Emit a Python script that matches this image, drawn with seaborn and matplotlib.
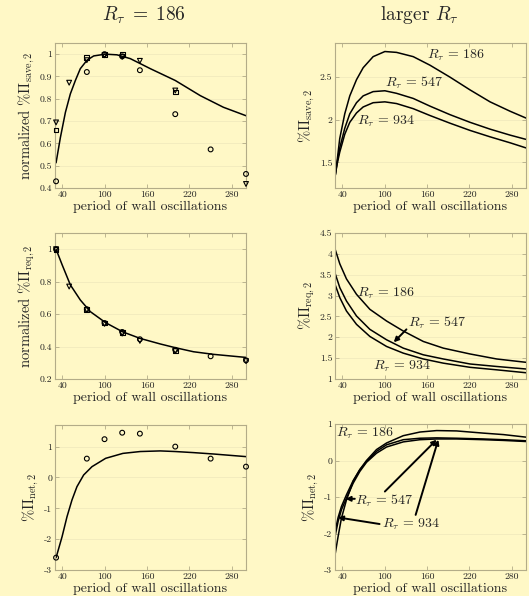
import matplotlib
matplotlib.use('Agg')
import matplotlib.pyplot as plt
import seaborn as sns
from matplotlib.ticker import FormatStrFormatter

# ---- data ----
# period of wall oscillations of the measured cases
per_o = [31.5, 75, 100, 125, 150, 200, 250, 300]
per_v = [31.5, 50, 75, 100, 125, 150, 200, 300]
per_s = [31.5, 75, 100, 125, 200]

# normalized %Pi_save,2 at R_tau = 186
save_o = [0.43, 0.92, 1.0, 0.99, 0.928, 0.731, 0.573, 0.463]
save_v = [0.694, 0.872, 0.973, 0.995, 0.988, 0.97, 0.837, 0.418]
save_s = [0.66, 0.985, 1.0, 1.0, 0.83]
save_fit_x = [31.5, 37.6, 44.7, 51.7, 58.8, 65.8, 75.3, 84.7, 101, 117.6,
              136.4, 164.7, 200, 235.4, 268, 300]
save_fit_y = [0.513, 0.626, 0.739, 0.822, 0.882, 0.935, 0.973, 0.992, 1.0,
              0.997, 0.98, 0.935, 0.882, 0.814, 0.762, 0.724]

# normalized %Pi_req,2 at R_tau = 186
req_o = [1.0, 0.63, 0.545, 0.49, 0.445, 0.38, 0.34, 0.315]
req_v = [1.0, 0.77, 0.625, 0.54, 0.48, 0.435, 0.372, 0.31]
req_s = [1.0, 0.63, 0.545, 0.485, 0.375]
req_fit_x = [31.5, 40, 51.7, 65.8, 80, 101.6, 126, 150.5, 178.8, 200,
             225.8, 254, 300]
req_fit_y = [1.0, 0.905, 0.78, 0.687, 0.615, 0.547, 0.49, 0.45, 0.416,
             0.393, 0.368, 0.352, 0.333]

# %Pi_net,2 at R_tau = 186
net_o = [-2.6, 0.61, 1.24, 1.45, 1.42, 1.0, 0.61, 0.35]
net_fit_x = [31.5, 40, 47, 54, 61, 70.5, 82.3, 101.6, 126, 150.5, 178.8,
             200, 225.8, 254, 300]
net_fit_y = [-2.6, -1.92, -1.27, -0.73, -0.30, 0.08, 0.35, 0.62, 0.78,
             0.84, 0.86, 0.84, 0.805, 0.76, 0.675]

# larger R_tau: model curves
sv_x = [30, 33, 36.7, 43.8, 50.9, 60.4, 69.8, 83.9, 100.5, 117, 140.6,
        164.2, 192.5, 220.9, 249.2, 277.5, 300]
sv_186 = [1.33, 1.52, 1.78, 2.07, 2.28, 2.47, 2.61, 2.74, 2.80, 2.79, 2.74,
          2.64, 2.50, 2.35, 2.21, 2.10, 2.02]
sv_547 = [1.33, 1.50, 1.67, 1.90, 2.07, 2.20, 2.28, 2.33, 2.34, 2.31, 2.25,
          2.16, 2.06, 1.97, 1.89, 1.82, 1.77]
sv_934 = [1.33, 1.48, 1.62, 1.83, 1.97, 2.08, 2.15, 2.20, 2.21, 2.19, 2.13,
          2.05, 1.96, 1.875, 1.80, 1.73, 1.67]

rq_x = [30, 36.8, 46.2, 60.4, 79.3, 102.9, 126.5, 154.8, 183.1, 220.9,
        258.6, 300]
rq_186 = [4.12, 3.76, 3.40, 3.03, 2.67, 2.39, 2.15, 1.90, 1.74, 1.60, 1.48, 1.40]
rq_547 = [3.54, 3.19, 2.87, 2.51, 2.19, 1.94, 1.74, 1.58, 1.48, 1.36, 1.30, 1.24]
rq_934 = [3.27, 2.95, 2.63, 2.31, 2.02, 1.78, 1.62, 1.48, 1.38, 1.28, 1.22, 1.15]

nt_x = [30, 34.4, 39.1, 46.2, 55.7, 65.1, 74.5, 88.7, 102.9, 126.5, 150.1,
        173.7, 202, 239.8, 268.1, 300]
nt_186 = [-2.59, -2.08, -1.58, -1.08, -0.57, -0.25, 0.0, 0.30, 0.48, 0.68,
          0.78, 0.82, 0.81, 0.75, 0.71, 0.64]
nt_547 = [-2.08, -1.67, -1.35, -1.03, -0.62, -0.30, -0.05, 0.20, 0.37, 0.51,
          0.57, 0.59, 0.59, 0.57, 0.55, 0.52]
nt_934 = [-1.95, -1.56, -1.26, -0.94, -0.55, -0.25, -0.03, 0.25, 0.43, 0.57,
          0.61, 0.62, 0.61, 0.59, 0.57, 0.54]

BG = '#FFF8C6'
SPINE = '#B3AC88'
GRID = '#F3ECBE'

sns.set_theme(style='ticks', rc={'axes.facecolor': BG, 'figure.facecolor': BG})
plt.rcParams['font.family'] = 'serif'
plt.rcParams['font.serif'] = ['cmr10', 'DejaVu Serif']
plt.rcParams['mathtext.fontset'] = 'cm'
plt.rcParams['axes.unicode_minus'] = False

fig = plt.figure(figsize=(5.29, 5.96), dpi=100)
W, H = 529, 596


def make_ax(x0, y0, x1, y1):
    return fig.add_axes([x0 / W, 1 - y1 / H, (x1 - x0) / W, (y1 - y0) / H])


def style(ax, ylim, yticks, ylabel):
    ax.set_xlim(30, 300)
    ax.set_ylim(*ylim)
    ax.set_xticks([40, 100, 160, 220, 280])
    ax.set_yticks(yticks)
    ax.yaxis.set_major_formatter(FormatStrFormatter('%g'))
    ax.tick_params(direction='in', top=True, right=True, length=3,
                   width=0.6, color=SPINE, labelsize=7, labelcolor='#222222',
                   pad=2)
    for s in ax.spines.values():
        s.set_color(SPINE)
        s.set_linewidth(0.8)
    ax.yaxis.grid(True, color=GRID, lw=0.7)
    ax.set_axisbelow(True)
    ax.set_xlabel('period of wall oscillations', fontsize=10, labelpad=1)
    ax.set_ylabel(ylabel, fontsize=10.5, labelpad=2)


def curve(ax, x, y):
    sns.lineplot(x=x, y=y, ax=ax, color='black', lw=1.1)


def pts(ax, x, y, m):
    sns.scatterplot(x=x, y=y, ax=ax, marker=m, s=12, color='none',
                    edgecolor='black', linewidth=0.8, clip_on=False, zorder=3)


arrow = dict(arrowstyle='-|>', color='black', lw=1.4,
             mutation_scale=7, shrinkA=0, shrinkB=0)
lab = dict(fontsize=10, va='center', ha='left')

# ---- row 1 ----
ax = make_ax(55, 43, 246, 188)
curve(ax, save_fit_x, save_fit_y)
pts(ax, per_o, save_o, 'o')
pts(ax, per_v, save_v, 'v')
pts(ax, per_s, save_s, 's')
style(ax, (0.4, 1.05), [0.4, 0.5, 0.6, 0.7, 0.8, 0.9, 1.0],
      r'normalized $\%\Pi_{\mathrm{save},2}$')

ax = make_ax(335, 43, 526, 188)
curve(ax, sv_x, sv_186)
curve(ax, sv_x, sv_547)
curve(ax, sv_x, sv_934)
style(ax, (1.2, 2.9), [1.5, 2, 2.5], r'$\%\Pi_{\mathrm{save},2}$')
ax.text(160, 2.75, r'$R_\tau\,=\,186$', **lab)
ax.text(100, 2.43, r'$R_\tau\,=\,547$', **lab)
ax.text(61, 1.98, r'$R_\tau\,=\,934$', **lab)

# ---- row 2 ----
ax = make_ax(55, 233, 246, 379)
curve(ax, req_fit_x, req_fit_y)
pts(ax, per_o, req_o, 'o')
pts(ax, per_v, req_v, 'v')
pts(ax, per_s, req_s, 's')
style(ax, (0.2, 1.1), [0.2, 0.4, 0.6, 0.8, 1.0],
      r'normalized $\%\Pi_{\mathrm{req},2}$')

ax = make_ax(335, 233, 526, 379)
curve(ax, rq_x, rq_186)
curve(ax, rq_x, rq_547)
curve(ax, rq_x, rq_934)
style(ax, (1, 4.5), [1, 1.5, 2, 2.5, 3, 3.5, 4, 4.5], r'$\%\Pi_{\mathrm{req},2}$')
ax.text(61, 3.05, r'$R_\tau\,=\,186$', **lab)
ax.text(133, 2.35, r'$R_\tau\,=\,547$', **lab)
ax.text(84, 1.30, r'$R_\tau\,=\,934$', **lab)
ax.annotate('', xy=(113, 1.88), xytext=(131, 2.19), arrowprops=arrow)

# ---- row 3 ----
ax = make_ax(55, 425, 246, 570)
curve(ax, net_fit_x, net_fit_y)
pts(ax, per_o, net_o, 'o')
style(ax, (-3, 1.7), [-3, -2, -1, 0, 1], r'$\%\Pi_{\mathrm{net},2}$')

ax = make_ax(335, 424, 526, 570)
curve(ax, nt_x, nt_186)
curve(ax, nt_x, nt_547)
curve(ax, nt_x, nt_934)
style(ax, (-3, 1), [-3, -2, -1, 0, 1], r'$\%\Pi_{\mathrm{net},2}$')
ax.text(31, 0.75, r'$R_\tau\,=\,186$', **lab)
ax.text(58, -1.1, r'$R_\tau\,=\,547$', **lab)
ax.text(96, -1.76, r'$R_\tau\,=\,934$', **lab)
ax.annotate('', xy=(45, -1.05), xytext=(58, -1.05), arrowprops=arrow)
ax.annotate('', xy=(34.3, -1.56), xytext=(93, -1.74), arrowprops=arrow)
ax.annotate('', xy=(173.7, 0.57), xytext=(100.5, -0.85), arrowprops=arrow)
ax.annotate('', xy=(176, 0.57), xytext=(144, -1.49), arrowprops=arrow)

# column titles
fig.text(144 / W, 1 - 15 / H, r'$R_\tau\;=\;186$', fontsize=14,
         ha='center', va='center')
fig.text(419.5 / W, 1 - 15 / H, r'larger $R_\tau$', fontsize=14,
         ha='center', va='center')

fig.savefig('out.png', dpi=100, facecolor=BG)
